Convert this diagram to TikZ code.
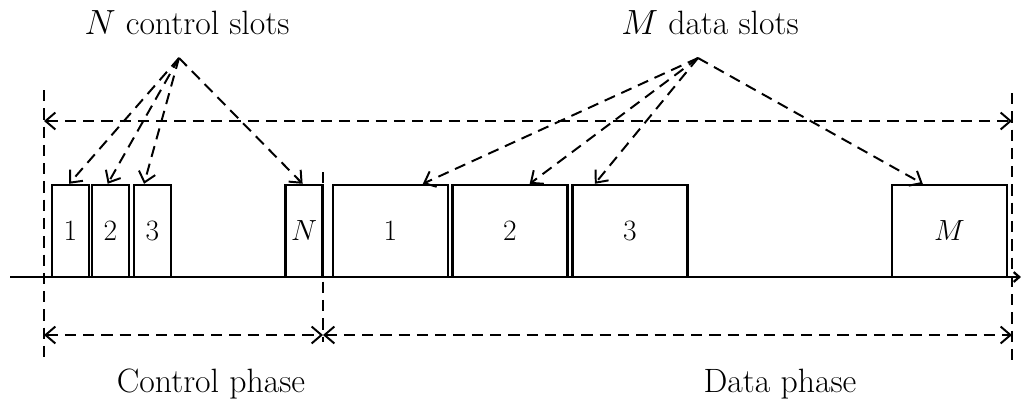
\documentclass[tikz,border=0pt]{standalone}
\usepackage{tikz}
\usetikzlibrary{positioning, arrows.meta}

\newcommand{\slotfont}{\fontsize{21}{24}\selectfont}
\newcommand{\captionfont}{\fontsize{24}{28}\selectfont}
\tikzset{
	slot/.style={draw, line width=1.7pt, minimum height=2.3cm, inner sep=0pt, font=\slotfont},
	ctrlslot/.style={slot, minimum width=0.925cm},
	dataslot/.style={slot, minimum width=2.875cm},
	dashline/.style={line width=1.4pt, dash pattern=on 8pt off 5pt},
	pointer/.style={dashline, -{Straight Barb[length=7pt, width=12pt]}},
	span/.style={dashline, {Straight Barb[length=7pt, width=12pt]}-{Straight Barb[length=7pt, width=12pt]}},
	caption/.style={font=\captionfont}
}

\begin{document}
\begin{tikzpicture}
	\begin{scope}[x=0.025cm, y=-0.025cm]
		\useasboundingbox (0,0) rectangle (1021,404);
		% time axis
		\coordinate (t0) at (10,277);
		\coordinate (t1) at (1021,277);
		\draw[line width=1.6pt, -{Straight Barb[length=4pt, width=7pt]}] (t0) -- (t1);
		% slots
		\node[ctrlslot] (c1) at (70.5,231) {1};
		\node[ctrlslot] (c2) at (110.5,231) {2};
		\node[ctrlslot] (c3) at (152.5,231) {3};
		\node[ctrlslot] (cN) at (304,231) {$N$};
		\node[dataslot] (d1) at (390.5,231) {1};
		\node[dataslot] (d2) at (510,231) {2};
		\node[dataslot] (d3) at (630,231) {3};
		\node[dataslot] (dM) at (949.5,231) {$M$};
		% phase borders
		\coordinate (la) at (44,90);   \coordinate (lb) at (44,362);
		\coordinate (ma) at (323,172); \coordinate (mb) at (323,342);
		\coordinate (ra) at (1012,93); \coordinate (rb) at (1012,367);
		\draw[dashline] (la) -- (lb);
		\draw[dashline] (ma) -- (mb);
		\draw[dashline] (ra) -- (rb);
		\coordinate (topl) at (44,121);  \coordinate (topr) at (1012,121);
		\coordinate (botl) at (44,335);  \coordinate (botm) at (323,335);
		\coordinate (botr) at (1012,335);
		\draw[span] (topl) -- (topr);
		\draw[span] (botl) -- (botm);
		\draw[span] (botm) -- (botr);
		% labels
		\node[caption] (nctl) at (187,23) {$N$ control slots};
		\node[caption] (mdat) at (710,23) {$M$ data slots};
		\node[caption] (cph) at (211,384) {Control phase};
		\node[caption] (dph) at (780,384) {Data phase};
		\coordinate (napex) at (179,58);
		\coordinate (mapex) at (698,58);
		\draw[pointer] (napex) -- ([xshift=-1pt]c1.north);
		\draw[pointer] (napex) -- ([xshift=-2pt]c2.north);
		\draw[pointer] (napex) -- ([xshift=-6pt]c3.north);
		\draw[pointer] (napex) -- ([xshift=-1pt]cN.north);
		\draw[pointer] (mapex) -- ([xshift=23pt]d1.north);
		\draw[pointer] (mapex) -- ([xshift=14pt]d2.north);
		\draw[pointer] (mapex) -- ([xshift=-25pt]d3.north);
		\draw[pointer] (mapex) -- ([xshift=-19pt]dM.north);
	\end{scope}
\end{tikzpicture}
\end{document}
